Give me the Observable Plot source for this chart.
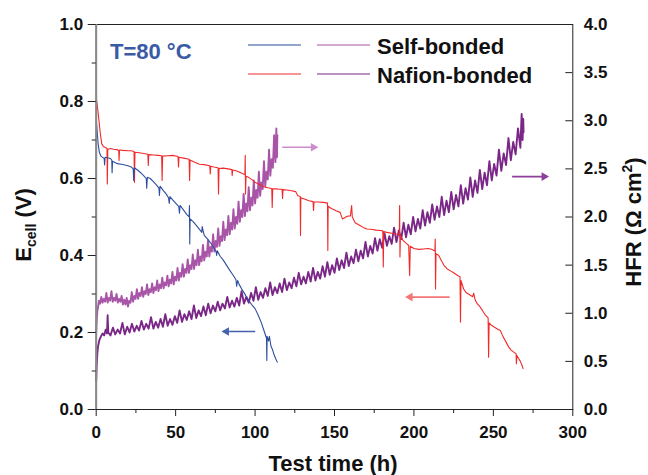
<!DOCTYPE html>
<html><head><meta charset="utf-8">
<script src="https://cdn.jsdelivr.net/npm/d3@7"></script>
<script src="https://cdn.jsdelivr.net/npm/@observablehq/plot@0.6"></script>
<style>body{margin:0;background:#fff} svg{display:block}</style>
</head><body><div id="chart"></div>
<script>
// ---- tick values ----
const xMajor = [0, 50, 100, 150, 200, 250, 300];
const xMinor = [25, 75, 125, 175, 225, 275];
const eMajor = [0, 0.2, 0.4, 0.6, 0.8, 1.0];
const eMinor = [0.1, 0.3, 0.5, 0.7, 0.9];
const hfrTicks = [0, 0.5, 1.0, 1.5, 2.0, 2.5, 3.0, 3.5, 4.0];
const hfrMax = 4;

// ---- series: [time (h), E_cell (V)] ----
const selfE = [[0,0.755],[0.5,0.73],[1.2,0.69],[2,0.668],[3,0.658],[4,0.655],[5,0.652],[5.3,0.635],[5.6,0.655],[7,0.654],[9,0.652],[9.8,0.648],[10,0.615],[10.3,0.645],[12,0.641],[14,0.638],[16,0.637],[18,0.635],[20,0.633],[22,0.63],[23.3,0.625],[23.6,0.595],[24,0.628],[26,0.622],[28,0.615],[30,0.607],[31.5,0.6],[31.8,0.575],[32.2,0.603],[34,0.6],[36,0.592],[38,0.583],[39.5,0.575],[39.8,0.556],[40.2,0.58],[42,0.57],[44,0.56],[45.5,0.55],[46,0.535],[46.4,0.553],[48,0.545],[50,0.536],[52,0.527],[52.4,0.51],[52.8,0.53],[55,0.518],[57,0.507],[58.5,0.5],[58.7,0.53],[58.9,0.43],[59.1,0.495],[61,0.488],[63,0.478],[65,0.468],[66.5,0.46],[66.7,0.475],[68,0.452],[70,0.443],[72,0.433],[74,0.42],[75.5,0.41],[75.8,0.4],[76.2,0.412],[78,0.398],[80,0.388],[82,0.375],[84,0.362],[86,0.35],[88,0.337],[88.4,0.32],[89,0.335],[90,0.325],[92,0.31],[94,0.297],[96,0.283],[98,0.272],[100,0.262],[102,0.245],[104,0.225],[106,0.2],[107.2,0.185],[107.4,0.127],[107.6,0.19],[108.5,0.178],[109,0.19],[110,0.165],[111,0.155],[112,0.142],[113,0.132],[114,0.123]];

const nafE = [[0,0.807],[0.4,0.8],[0.8,0.785],[1.5,0.76],[2.5,0.72],[3.5,0.69],[4.5,0.683],[6,0.68],[6.8,0.678],[7,0.586],[7.3,0.676],[9,0.678],[11,0.676],[13,0.675],[14.2,0.673],[14.4,0.647],[14.7,0.674],[17,0.673],[20,0.672],[22,0.672],[23.8,0.67],[24.1,0.59],[24.4,0.668],[27,0.667],[30,0.665],[32.5,0.663],[32.8,0.634],[33.1,0.662],[36,0.661],[39,0.66],[41.2,0.659],[41.5,0.595],[41.8,0.658],[45,0.659],[48,0.66],[51.5,0.657],[51.8,0.63],[52.1,0.655],[55,0.653],[58.5,0.65],[58.8,0.595],[59.1,0.648],[62,0.642],[65,0.637],[68,0.636],[71.5,0.633],[71.8,0.612],[72.1,0.632],[74,0.63],[76.7,0.628],[77,0.56],[77.3,0.626],[80,0.627],[83,0.625],[85.4,0.623],[85.6,0.607],[85.9,0.622],[88,0.62],[90,0.617],[92,0.613],[93.6,0.61],[93.8,0.66],[94,0.56],[94.3,0.606],[96,0.603],[98,0.597],[100,0.59],[102,0.586],[104,0.582],[106,0.578],[108,0.576],[110.5,0.574],[110.8,0.525],[111.1,0.573],[113,0.573],[115.5,0.572],[117,0.572],[117.3,0.548],[117.6,0.571],[120,0.57],[123,0.568],[125.5,0.566],[127,0.555],[128.4,0.553],[128.6,0.452],[128.8,0.55],[131,0.547],[134,0.542],[136.5,0.54],[136.8,0.517],[137.1,0.539],[140,0.539],[143,0.538],[145.6,0.536],[145.8,0.413],[146,0.528],[148,0.522],[151,0.516],[153.5,0.512],[155,0.495],[158,0.502],[160,0.503],[160.8,0.53],[161.2,0.5],[163,0.485],[166,0.478],[168,0.473],[170.5,0.469],[173,0.468],[176,0.466],[179,0.465],[180.4,0.464],[180.7,0.37],[181,0.462],[183,0.46],[186,0.458],[189,0.456],[190.8,0.455],[191,0.53],[191.2,0.396],[191.5,0.452],[193,0.44],[195,0.432],[196.7,0.426],[197.3,0.348],[197.7,0.424],[200,0.418],[203,0.416],[206,0.417],[209,0.418],[211,0.416],[213.2,0.412],[213.4,0.443],[213.6,0.313],[213.9,0.405],[215.6,0.4],[217.5,0.385],[219,0.374],[221,0.365],[223,0.36],[225,0.355],[227.5,0.348],[229,0.345],[229.3,0.227],[229.6,0.335],[231.3,0.313],[233,0.303],[235,0.298],[237,0.293],[237.6,0.302],[238.5,0.285],[239.8,0.275],[241,0.27],[243,0.258],[245,0.245],[246.7,0.238],[247,0.136],[247.3,0.225],[249,0.218],[251,0.213],[253,0.208],[254.4,0.205],[256,0.19],[258,0.175],[259.7,0.162],[261,0.155],[262.8,0.149],[264.3,0.145],[264.5,0.119],[264.8,0.14],[266,0.132],[267,0.125],[268,0.115],[268.7,0.106]];

// ---- series: [time (h), HFR (ohm cm2)] ----
const selfHfr = [[0,0.80],[0.3,0.92],[0.7,1.02],[1.2,1.07],[1.8,1.13],[2.5,1.10],[3.2,1.17],[4,1.11],[4.8,1.15],[5.6,1.12],[6.4,1.21],[7.2,1.11],[8,1.16],[8.8,1.13],[9.6,1.23],[10.4,1.12],[11.2,1.16],[12,1.13],[12.8,1.2],[13.6,1.11],[14.4,1.15],[15.2,1.12],[16,1.18],[16.8,1.09],[17.6,1.14],[18.4,1.09],[19.2,1.16],[20,1.07],[20.8,1.13],[21.6,1.11],[22.4,1.22],[23.2,1.12],[24,1.18],[24.8,1.15],[25.6,1.25],[26.4,1.15],[27.2,1.21],[28,1.18],[28.8,1.27],[29.6,1.17],[30.4,1.23],[31.2,1.2],[32,1.3],[32.8,1.19],[33.6,1.25],[34.4,1.22],[35.2,1.31],[36,1.21],[36.8,1.27],[37.6,1.24],[38.4,1.34],[39.2,1.23],[40,1.30],[40.8,1.26],[41.6,1.37],[42.4,1.26],[43.2,1.32],[44,1.29],[44.8,1.39],[45.6,1.28],[46.4,1.35],[47.2,1.31],[48,1.43],[48.8,1.30],[49.6,1.38],[50.4,1.34],[51.2,1.47],[52,1.34],[52.8,1.42],[53.6,1.38],[54.4,1.51],[55.2,1.38],[56,1.46],[56.8,1.42],[57.6,1.56],[58.4,1.42],[59.2,1.50],[60,1.46],[60.8,1.61],[61.6,1.46],[62.4,1.55],[63.2,1.5],[64,1.66],[64.8,1.50],[65.6,1.59],[66.4,1.54],[67.2,1.71],[68,1.55],[68.8,1.64],[69.6,1.59],[70.4,1.76],[71.2,1.59],[72,1.69],[72.8,1.64],[73.6,1.82],[74.4,1.64],[75.2,1.75],[76,1.69],[76.8,1.88],[77.6,1.70],[78.4,1.80],[79.2,1.75],[80,1.95],[80.8,1.76],[81.6,1.87],[82.4,1.81],[83.2,2.01],[84,1.82],[84.8,1.94],[85.6,1.87],[86.4,2.08],[87.2,1.88],[88,2.0],[88.8,1.93],[89.6,2.16],[90.4,1.95],[91.2,2.07],[92,2.0],[92.8,2.24],[93.6,2.01],[94.4,2.14],[95.2,2.06],[96,2.31],[96.8,2.07],[97.6,2.2],[98.4,2.12],[99.2,2.38],[100,2.14],[100.8,2.28],[101.6,2.2],[102.4,2.47],[103.2,2.22],[104,2.36],[104.8,2.29],[105.6,2.58],[106.4,2.32],[107.2,2.47],[108,2.39],[108.8,2.7],[109.6,2.43],[110.4,2.6],[111.2,2.51],[112,2.85],[112.8,2.57],[113.4,2.92],[113.8,2.62],[114,2.85]];

const nafHfr = [[0,0.30],[0.3,0.46],[0.7,0.58],[1.2,0.66],[2,0.72],[3,0.76],[4,0.79],[5,0.77],[6,0.83],[6.8,0.79],[7.2,0.98],[7.6,0.80],[9,0.77],[10.5,0.85],[12,0.78],[13.5,0.83],[15,0.79],[16.5,0.90],[18,0.78],[19.5,0.86],[21,0.80],[22.5,0.89],[24,0.81],[25.5,0.87],[27,0.82],[28.5,0.92],[30,0.83],[31.5,0.89],[33,0.84],[34.5,0.96],[36,0.84],[37.5,0.91],[39,0.85],[40.5,0.94],[42,0.86],[43.5,0.99],[45,0.87],[46.5,0.94],[48,0.88],[49.5,0.97],[51,0.90],[52.5,1.03],[54,0.91],[55.5,0.99],[57,0.93],[58.5,1.02],[60,0.94],[61.5,1.08],[63,0.95],[64.5,1.03],[66,0.97],[67.5,1.07],[69,0.98],[70.5,1.10],[72,1.00],[73.5,1.08],[75,1.02],[76.5,1.12],[78,1.03],[79.5,1.10],[81,1.05],[82.5,1.17],[84,1.06],[85.5,1.13],[87,1.07],[88.5,1.16],[90,1.08],[91.5,1.23],[93,1.10],[94.5,1.17],[96,1.11],[97.5,1.21],[99,1.13],[100.5,1.27],[102,1.14],[103.5,1.22],[105,1.16],[106.5,1.26],[108,1.18],[109.5,1.32],[111,1.19],[112.5,1.27],[114,1.21],[115.5,1.31],[117,1.22],[118.5,1.36],[120,1.24],[121.5,1.32],[123,1.26],[124.5,1.37],[126,1.28],[127.5,1.42],[129,1.30],[130.5,1.38],[132,1.31],[133.5,1.43],[135,1.33],[136.5,1.47],[138,1.34],[139.5,1.43],[141,1.36],[142.5,1.49],[144,1.38],[145.5,1.53],[147,1.40],[148.5,1.50],[150,1.42],[151.5,1.57],[153,1.45],[154.5,1.55],[156,1.47],[157.5,1.63],[159,1.49],[160.5,1.59],[162,1.52],[163.5,1.66],[165,1.54],[166.5,1.65],[168,1.57],[169.5,1.74],[171,1.59],[172.5,1.70],[174,1.62],[175.5,1.78],[177,1.65],[178.5,1.77],[180,1.68],[181.5,1.83],[183,1.70],[184.5,1.80],[186,1.72],[187.5,1.89],[189,1.74],[190.5,1.86],[192,1.77],[193.5,1.94],[195,1.79],[196.5,1.92],[198,1.82],[199.5,2.0],[201,1.85],[202.5,1.98],[204,1.88],[205.5,2.07],[207,1.91],[208.5,2.05],[210,1.94],[211.5,2.13],[213,1.97],[214.5,2.11],[216,2.00],[217.5,2.21],[219,2.02],[220.5,2.17],[222,2.05],[223.5,2.26],[225,2.08],[226.5,2.23],[228,2.11],[229.5,2.33],[231,2.14],[232.5,2.30],[234,2.18],[235.5,2.41],[237,2.21],[238.5,2.38],[240,2.25],[241.5,2.49],[243,2.29],[244.5,2.46],[246,2.33],[247.5,2.58],[249,2.38],[250.5,2.55],[252,2.43],[253.5,2.70],[255,2.48],[256.5,2.66],[258,2.54],[259.5,2.82],[261,2.59],[262.5,2.78],[264,2.65],[265.5,2.92],[267,2.72],[267.8,3.07],[268.4,2.80],[268.8,3.02],[269,2.88]];

// ---- annotation arrows: [t start, t end, value, axis] ----
const arrowSelfHfr = [117.1, 138.6, 2.725, "hfr"];
const arrowNafHfr = [261.8, 283.8, 2.42, "hfr"];
const arrowNafE = [222.5, 195.7, 0.292, "e"];
const arrowSelfE = [100.1, 80.1, 0.2026, "e"];

const legendLabels = ["Self-bonded", "Nafion-bonded"];
const tempLabel = "T=80 °C";

const C = {
  selfE: "#2d4e9e", nafE: "#f02a2a", selfHfr: "#a855a8", nafHfr: "#7a2787",
  aSelfHfr: "#cc8ecc", aNafHfr: "#8e3f9e", aNafE: "#f47676", aSelfE: "#4562ad"
};
const F = "'Liberation Sans', Arial, Helvetica, sans-serif";

const pts = (arr, k) => arr.map(([t, v]) => ({t, v: v / k}));

function arrowMarks(a, color) {
  const [t1, t2, v, axis] = a;
  const y = axis === "hfr" ? v / hfrMax : v;
  const d = [{x1: t1, x2: t2, y}];
  const dir = t2 > t1 ? 90 : -90;
  return [
    Plot.link(d, {x1: "x1", x2: "x2", y1: "y", y2: "y", stroke: color, strokeWidth: 1.6}),
    Plot.dot(d, {x: "x2", y: "y", symbol: "triangle", r: 3.2, rotate: dir, fill: color, stroke: "none", dx: dir > 0 ? -3 : 3})
  ];
}

const plot = Plot.plot({
  width: 648, height: 475,
  marginLeft: 95.7, marginRight: 75.7, marginTop: 24, marginBottom: 66,
  style: {fontFamily: F, fontSize: "17px", fontWeight: "bold", background: "#fff", color: "#111", overflow: "visible"},
  x: {domain: [0, 300]},
  y: {domain: [0, 1]},
  marks: [
    Plot.line(pts(nafHfr, hfrMax), {x: "t", y: "v", stroke: C.nafHfr, strokeWidth: 1.9}),
    Plot.line(pts(selfHfr, hfrMax), {x: "t", y: "v", stroke: C.selfHfr, strokeWidth: 1.9}),
    Plot.line(pts(nafE, 1), {x: "t", y: "v", stroke: C.nafE, strokeWidth: 1.1}),
    Plot.line(pts(selfE, 1), {x: "t", y: "v", stroke: C.selfE, strokeWidth: 1.1}),
    ...arrowMarks(arrowSelfHfr, C.aSelfHfr),
    ...arrowMarks(arrowNafHfr, C.aNafHfr),
    ...arrowMarks(arrowNafE, C.aNafE),
    ...arrowMarks(arrowSelfE, C.aSelfE),
    Plot.frame({stroke: "#222", strokeWidth: 1}),
    Plot.ruleX([0], {stroke: "#8a8a8a", strokeWidth: 2}),
    Plot.axisX({ticks: xMajor, tickSize: 7, tickPadding: 9, label: null, fontSize: 17, stroke: "#222"}),
    Plot.axisX({ticks: xMinor, tickSize: 4, tickFormat: () => "", label: null, stroke: "#222"}),
    Plot.axisY({ticks: eMajor, tickSize: 8, tickPadding: 5, label: null, tickFormat: d3.format(".1f"), fontSize: 17, stroke: "#222"}),
    Plot.axisY({ticks: eMinor, tickSize: 4, tickFormat: () => "", label: null, stroke: "#222"}),
    Plot.axisY({anchor: "right", ticks: hfrTicks.map(h => h / hfrMax), tickSize: 0, tickPadding: 11, label: null, fontSize: 17, tickFormat: d => (d * hfrMax).toFixed(1)}),
    Plot.tickY(hfrTicks, {y: h => h / hfrMax, insetLeft: 469.6, stroke: "#222"})
  ]
});

document.getElementById("chart").appendChild(plot);
const svg = d3.select(plot);
const g = svg.append("g").attr("font-family", F).attr("font-weight", "bold").attr("fill", "#111").attr("text-anchor", "start");

// axis titles
g.append("text").attr("x", 333).attr("y", 471).attr("text-anchor", "middle").attr("font-size", 22).text("Test time (h)");
const lt = g.append("text").attr("transform", "translate(31,225) rotate(-90)").attr("text-anchor", "middle").attr("font-size", 22);
lt.append("tspan").text("E");
lt.append("tspan").attr("font-size", 14).attr("dy", 5).text("cell");
lt.append("tspan").attr("dy", -5).text(" (V)");
const rt = g.append("text").attr("transform", "translate(641,222) rotate(-90)").attr("text-anchor", "middle").attr("font-size", 22);
rt.append("tspan").text("HFR (Ω cm");
rt.append("tspan").attr("font-size", 14).attr("dy", -9).text("2");
rt.append("tspan").attr("dy", 9).text(")");

// temperature note
g.append("text").attr("x", 110).attr("y", 59).attr("text-anchor", "start").attr("font-size", 22).attr("fill", "#3a5aa6").text(tempLabel);

// legend
const legRows = [
  {y: 45, c1: C.selfE, c2: C.selfHfr, label: legendLabels[0]},
  {y: 74, c1: C.nafE, c2: C.nafHfr, label: legendLabels[1]}
];
for (const r of legRows) {
  g.append("line").attr("x1", 248).attr("x2", 301).attr("y1", r.y).attr("y2", r.y).attr("stroke", r.c1).attr("stroke-width", 1.2);
  g.append("line").attr("x1", 317).attr("x2", 370).attr("y1", r.y).attr("y2", r.y).attr("stroke", r.c2).attr("stroke-width", 1.2);
  g.append("text").attr("x", 377).attr("y", r.y + 8.5).attr("text-anchor", "start").attr("font-size", 22).text(r.label);
}
</script></body></html>
